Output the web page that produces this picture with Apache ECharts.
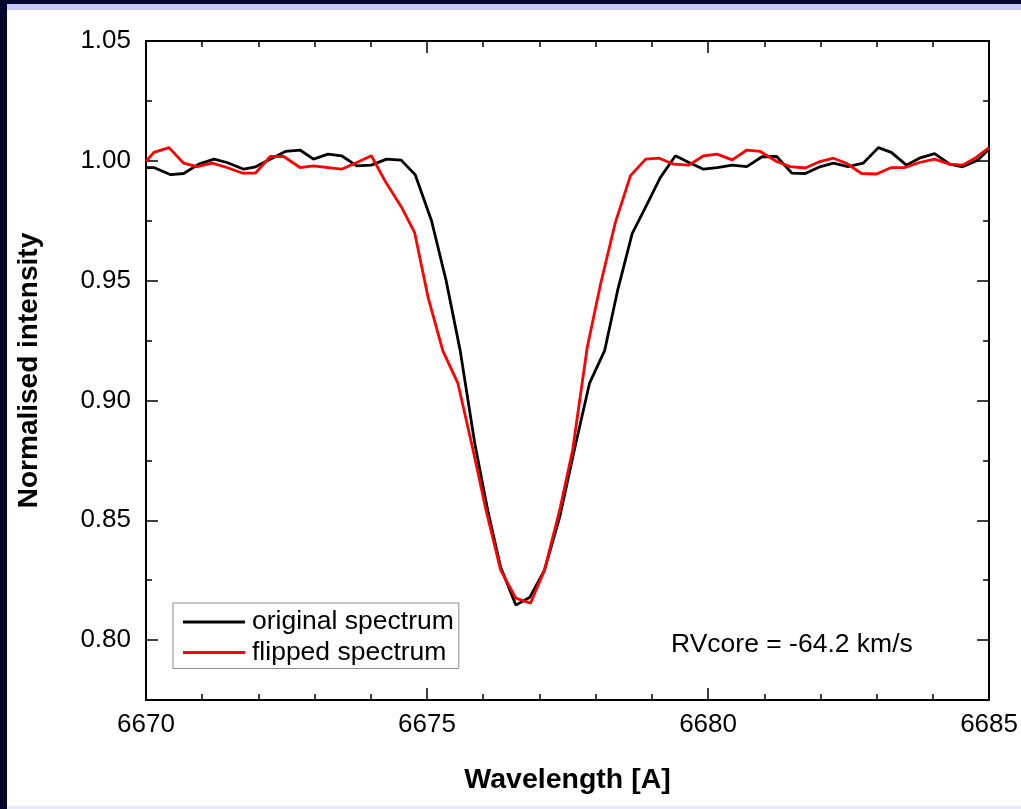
<!DOCTYPE html>
<html>
<head>
<meta charset="utf-8">
<script src="https://cdn.jsdelivr.net/npm/echarts@6/dist/echarts.min.js"></script>
<style>
  html, body { margin: 0; padding: 0; width: 1021px; height: 809px; overflow: hidden; background: #06062c; }
  #lav { position: absolute; left: 7px; top: 4px; width: 1014px; height: 6px; background: #c8c8f2; }
  #panel { position: absolute; left: 7px; top: 10px; width: 1014px; height: 796px; background: #ffffff; }
  #lavb { position: absolute; left: 7px; top: 806px; width: 1014px; height: 3px; background: #e8e8fb; }
  #chart { position: absolute; left: 0; top: 0; width: 1021px; height: 809px; }
</style>
</head>
<body>
<div id="lav"></div>
<div id="panel"></div>
<div id="lavb"></div>
<div id="chart"></div>
<script>
// ---- data ----
const origWave = [6670.00, 6670.14, 6670.44, 6670.67, 6670.94, 6671.21, 6671.44, 6671.74, 6671.95, 6672.21, 6672.48, 6672.74, 6672.98, 6673.24, 6673.48, 6673.75, 6674.01, 6674.28, 6674.54, 6674.79, 6675.08, 6675.34, 6675.59, 6675.85, 6676.08, 6676.31, 6676.58, 6676.83, 6677.09, 6677.36, 6677.62, 6677.89, 6678.16, 6678.39, 6678.65, 6678.92, 6679.15, 6679.42, 6679.66, 6679.92, 6680.16, 6680.43, 6680.69, 6680.96, 6681.22, 6681.49, 6681.73, 6681.99, 6682.23, 6682.49, 6682.76, 6683.03, 6683.26, 6683.53, 6683.76, 6684.03, 6684.30, 6684.53, 6684.80, 6685.00];
const origFlux = [0.9972, 0.9972, 0.9942, 0.9947, 0.9986, 1.0007, 0.9993, 0.9965, 0.9975, 1.0007, 1.0039, 1.0045, 1.0007, 1.0028, 1.0021, 0.9979, 0.9982, 1.0007, 1.0003, 0.9942, 0.9750, 0.9500, 0.9208, 0.8820, 0.8542, 0.8304, 0.8146, 0.8179, 0.8292, 0.8513, 0.8792, 0.9071, 0.9208, 0.9458, 0.9696, 0.9821, 0.9930, 1.0021, 0.9993, 0.9965, 0.9972, 0.9982, 0.9976, 1.0017, 1.0018, 0.9949, 0.9947, 0.9975, 0.9990, 0.9976, 0.9990, 1.0055, 1.0035, 0.9982, 1.0011, 1.0030, 0.9986, 0.9975, 1.0003, 1.0049];
const flipWave = [6670.00, 6670.14, 6670.41, 6670.67, 6670.91, 6671.18, 6671.44, 6671.71, 6671.95, 6672.21, 6672.45, 6672.74, 6672.98, 6673.24, 6673.48, 6673.75, 6674.01, 6674.25, 6674.55, 6674.78, 6675.02, 6675.28, 6675.55, 6675.82, 6676.05, 6676.31, 6676.58, 6676.84, 6677.09, 6677.36, 6677.59, 6677.85, 6678.09, 6678.35, 6678.62, 6678.89, 6679.13, 6679.39, 6679.66, 6679.92, 6680.16, 6680.43, 6680.69, 6680.93, 6681.22, 6681.46, 6681.73, 6681.99, 6682.23, 6682.46, 6682.73, 6683.00, 6683.26, 6683.50, 6683.76, 6684.03, 6684.30, 6684.53, 6684.77, 6685.00];
const flipFlux = [0.9997, 1.0035, 1.0055, 0.9990, 0.9976, 0.9990, 0.9972, 0.9949, 0.9949, 1.0018, 1.0018, 0.9972, 0.9979, 0.9972, 0.9965, 0.9993, 1.0021, 0.9917, 0.9805, 0.9700, 0.9429, 0.9208, 0.9071, 0.8792, 0.8542, 0.8292, 0.8175, 0.8154, 0.8292, 0.8542, 0.8792, 0.9221, 0.9488, 0.9742, 0.9938, 1.0007, 1.0011, 0.9986, 0.9982, 1.0021, 1.0028, 1.0004, 1.0045, 1.0039, 0.9997, 0.9976, 0.9970, 0.9997, 1.0011, 0.9990, 0.9947, 0.9945, 0.9972, 0.9972, 0.9993, 1.0007, 0.9986, 0.9982, 1.0014, 1.0055];
const seriesNames = ['original spectrum', 'flipped spectrum'];
const yMajorTicks = [0.80, 0.85, 0.90, 0.95, 1.00, 1.05];
const yMinorTicks = [0.825, 0.875, 0.925, 0.975, 1.025];
const annotation = 'RVcore = -64.2 km/s';

const FONT = "Arial, 'Liberation Sans', sans-serif";
const zip = (a, b) => a.map((v, i) => [v, b[i]]);

const chart = echarts.init(document.getElementById('chart'), null, { renderer: 'canvas' });

const xBase = {
  type: 'value', min: 6670, max: 6685, interval: 5,
  axisLine: { show: true, lineStyle: { color: '#000', width: 2 } },
  axisTick: { show: true, inside: true, length: 12, lineStyle: { color: '#000', width: 1.5 } },
  minorTick: { show: true, splitNumber: 5, length: 6, lineStyle: { color: '#000', width: 1.5 } },
  splitLine: { show: false }
};
const yBase = {
  type: 'value', min: 0.775, max: 1.05, splitNumber: 5,
  axisLine: { show: true, lineStyle: { color: '#000', width: 2 } },
  splitLine: { show: false }
};

chart.setOption({
  backgroundColor: 'transparent',
  animation: false,
  grid: { left: 146, right: 27, top: 41, bottom: 109, containLabel: false },
  legend: {
    orient: 'vertical', left: 173, top: 603,
    padding: [5.5, 5, 2.5, 10],
    itemGap: 3.5, itemWidth: 62, itemHeight: 3, icon: 'rect',
    borderColor: '#8c8c8c', borderWidth: 1, backgroundColor: '#fff',
    textStyle: { fontFamily: FONT, fontSize: 26.5, color: '#000', padding: [0, 0, 0, 2] },
    data: seriesNames
  },
  graphic: [{
    type: 'text', left: 671, top: 631,
    style: { text: annotation, font: '26.5px ' + FONT, fill: '#000' }
  }],
  xAxis: [
    Object.assign({}, xBase, {
      position: 'bottom',
      name: 'Wavelength [A]', nameLocation: 'middle', nameGap: 66,
      nameTextStyle: { fontFamily: FONT, fontSize: 28.5, fontWeight: 'bold', color: '#000' },
      axisLabel: { show: true, margin: 12, fontFamily: FONT, fontSize: 26, color: '#000', formatter: v => String(v) }
    }),
    Object.assign({}, xBase, { position: 'top', axisLabel: { show: false } })
  ],
  yAxis: [
    Object.assign({}, yBase, {
      position: 'left',
      name: 'Normalised intensity', nameLocation: 'middle', nameGap: 103, nameRotate: 90,
      nameTextStyle: { fontFamily: FONT, fontSize: 28, fontWeight: 'bold', color: '#000' },
      axisTick: { show: true, inside: true, length: 12, customValues: yMajorTicks, lineStyle: { color: '#000', width: 1.5 } },
      axisLabel: { show: true, margin: 15, customValues: yMajorTicks, fontFamily: FONT, fontSize: 26, color: '#000', formatter: v => v.toFixed(2) }
    }),
    Object.assign({}, yBase, {
      position: 'left',
      axisTick: { show: true, inside: true, length: 6, customValues: yMinorTicks, lineStyle: { color: '#000', width: 1.5 } },
      axisLabel: { show: false }
    }),
    Object.assign({}, yBase, {
      position: 'right',
      axisTick: { show: true, inside: true, length: 12, customValues: yMajorTicks, lineStyle: { color: '#000', width: 1.5 } },
      axisLabel: { show: false }
    }),
    Object.assign({}, yBase, {
      position: 'right',
      axisTick: { show: true, inside: true, length: 6, customValues: yMinorTicks, lineStyle: { color: '#000', width: 1.5 } },
      axisLabel: { show: false }
    })
  ],
  series: [
    {
      name: seriesNames[0], type: 'line', xAxisIndex: 0, yAxisIndex: 0,
      data: zip(origWave, origFlux), showSymbol: false, symbol: 'none',
      lineStyle: { color: '#000000', width: 2.8 }, itemStyle: { color: '#000000' }
    },
    {
      name: seriesNames[1], type: 'line', xAxisIndex: 0, yAxisIndex: 0,
      data: zip(flipWave, flipFlux), showSymbol: false, symbol: 'none',
      lineStyle: { color: '#ff0000', width: 2.8 }, itemStyle: { color: '#ff0000' }
    }
  ]
});
</script>
</body>
</html>
